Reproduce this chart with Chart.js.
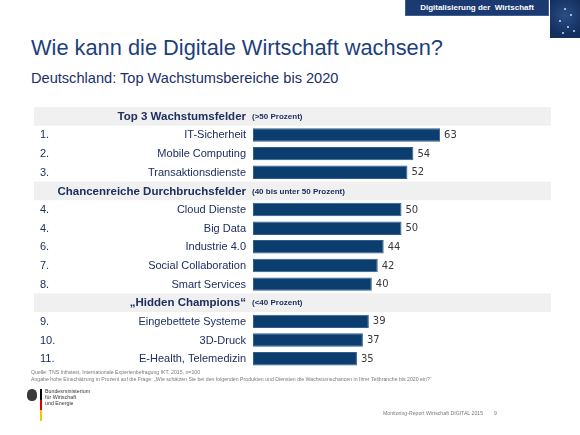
<!DOCTYPE html>
<html>
<head>
<meta charset="utf-8">
<script src="https://cdn.jsdelivr.net/npm/chart.js@4/dist/chart.umd.min.js"></script>
<style>
  html, body { margin: 0; padding: 0; background: #fff; }
  body { width: 580px; height: 435px; position: relative; overflow: hidden; font-family: "Liberation Sans", Arial, sans-serif; }
  #c { position: absolute; left: 0; top: 0; }
  .t { position: absolute; white-space: nowrap; line-height: 1; }
  #title { left: 31px; top: 37px; font-size: 21.8px; color: #1d3f7b; }
  #sub { left: 31px; top: 71px; font-size: 14.6px; color: #1b2f68; }
  #banner { position: absolute; left: 405px; top: 0; width: 144px; height: 16px; background: #1c3a72; border: 1px solid #3d5d93; border-top: none; box-sizing: border-box; color: #fff; font-weight: bold; font-size: 8px; line-height: 15px; text-align: center; }
  #map { position: absolute; left: 550px; top: 0; width: 30px; height: 38px; background: radial-gradient(circle at 50% 40%, #2a4f86 0%, #14305f 70%); }
  #map i { position: absolute; width: 2px; height: 2px; background: #cfe0f5; border-radius: 1px; }
  .foot { position: absolute; font-size: 5.2px; color: #7a7a7a; white-space: nowrap; line-height: 1; }
  #logo-bar { position: absolute; left: 40px; top: 389px; width: 1.5px; height: 32px; background: linear-gradient(#000 0 33%, #d00 33% 66%, #f5c400 66% 100%); }
  #eagle { position: absolute; left: 27px; top: 389px; width: 10px; height: 12px; background: #3a3a3a; border-radius: 45% 45% 40% 40%; }
  .bm { position: absolute; left: 45px; font-size: 5.3px; color: #333; line-height: 1; white-space: nowrap; }
</style>
</head>
<body>
<div id="banner">Digitalisierung der&nbsp; Wirtschaft</div>
<div id="map"><i style="left:14px;top:8px"></i><i style="left:20px;top:14px"></i><i style="left:9px;top:20px"></i><i style="left:17px;top:26px"></i><i style="left:23px;top:30px"></i><i style="left:12px;top:32px"></i></div>
<div id="title" class="t">Wie kann die Digitale Wirtschaft wachsen?</div>
<div id="sub" class="t">Deutschland: Top Wachstumsbereiche bis 2020</div>
<canvas id="c" width="580" height="435"></canvas>
<div class="foot" style="left:31px;top:370px">Quelle: TNS Infratest, Internationale Expertenbefragung IKT, 2015, n=100</div>
<div class="foot" style="left:31px;top:377px">Angabe hohe Einschätzung in Prozent auf die Frage: „Wie schätzen Sie bei den folgenden Produkten und Diensten die Wachstumschancen in Ihrer Teilbranche bis 2020 ein?“</div>
<div id="eagle"></div>
<div id="logo-bar"></div>
<div class="bm" style="top:389px">Bundesministerium</div>
<div class="bm" style="top:395px">für Wirtschaft</div>
<div class="bm" style="top:401px">und Energie</div>
<div class="foot" style="left:383px;top:411px;font-size:5.2px">Monitoring-Report Wirtschaft DIGITAL 2015</div>
<div class="foot" style="left:494px;top:411px;font-size:5.2px">9</div>
<script>
// ---- data ----
const categories = ["Top 3 Wachstumsfelder", "IT-Sicherheit", "Mobile Computing", "Transaktionsdienste",
  "Chancenreiche Durchbruchsfelder", "Cloud Dienste", "Big Data", "Industrie 4.0", "Social Collaboration", "Smart Services",
  "„Hidden Champions“", "Eingebettete Systeme", "3D-Druck", "E-Health, Telemedizin"];
const ranks = ["", "1.", "2.", "3.", "", "4.", "4.", "6.", "7.", "8.", "", "9.", "10.", "11."];
const groupNotes = ["(>50 Prozent)", "", "", "", "(40 bis unter 50 Prozent)", "", "", "", "", "", "(<40 Prozent)", "", "", ""];
const values = [null, 63, 54, 52, null, 50, 50, 44, 42, 40, null, 39, 37, 35];

const NAVY = '#1e2f60';

const labelPlugin = {
  id: 'rowLabels',
  beforeDatasetsDraw(chart) {
    const ctx = chart.ctx, y = chart.scales.y;
    const slot = y.getPixelForValue(1) - y.getPixelForValue(0);
    ctx.save();
    ctx.fillStyle = '#f0f0f0';
    categories.forEach((c, i) => {
      if (values[i] === null) {
        const yc = y.getPixelForValue(i);
        ctx.fillRect(34, yc - slot / 2, chart.chartArea.right + 1 - 34, slot);
      }
    });
    ctx.restore();
  },
  afterDatasetsDraw(chart) {
    const ctx = chart.ctx, y = chart.scales.y;
    const meta = chart.getDatasetMeta(0);
    ctx.save();
    ctx.textBaseline = 'middle';
    categories.forEach((c, i) => {
      const yc = y.getPixelForValue(i) + 0.5;
      if (values[i] === null) {
        ctx.fillStyle = NAVY;
        ctx.font = 'bold 11.5px "Liberation Sans", Arial, sans-serif';
        ctx.textAlign = 'right';
        ctx.fillText(c, 246, yc);
        ctx.font = 'bold 8px "Liberation Sans", Arial, sans-serif';
        ctx.textAlign = 'left';
        ctx.fillText(groupNotes[i], 252, yc);
      } else {
        ctx.fillStyle = NAVY;
        ctx.font = '11px "Liberation Sans", Arial, sans-serif';
        ctx.textAlign = 'left';
        ctx.fillText(ranks[i], 40, yc);
        ctx.textAlign = 'right';
        ctx.fillText(c, 246, yc);
        const bar = meta.data[i];
        ctx.fillStyle = '#3a3a3a';
        ctx.font = '10px "DejaVu Sans", Verdana, sans-serif';
        ctx.textAlign = 'left';
        ctx.fillText(String(values[i]), bar.x + 4, yc);
      }
    });
    ctx.restore();
  }
};

new Chart(document.getElementById('c'), {
  type: 'bar',
  data: {
    labels: categories,
    datasets: [{
      data: values,
      backgroundColor: '#0b3d6f',
      borderColor: '#2e5f90',
      borderWidth: 1,
      borderSkipped: false,
      barPercentage: 0.72,
      categoryPercentage: 1
    }]
  },
  options: {
    indexAxis: 'y',
    responsive: false,
    animation: false,
    layout: { padding: { left: 253, right: 30, top: 107, bottom: 67 } },
    plugins: { legend: { display: false }, tooltip: { enabled: false } },
    scales: {
      x: { display: false, min: 0, max: 100 },
      y: { display: false }
    }
  },
  plugins: [labelPlugin]
});
</script>
</body>
</html>
